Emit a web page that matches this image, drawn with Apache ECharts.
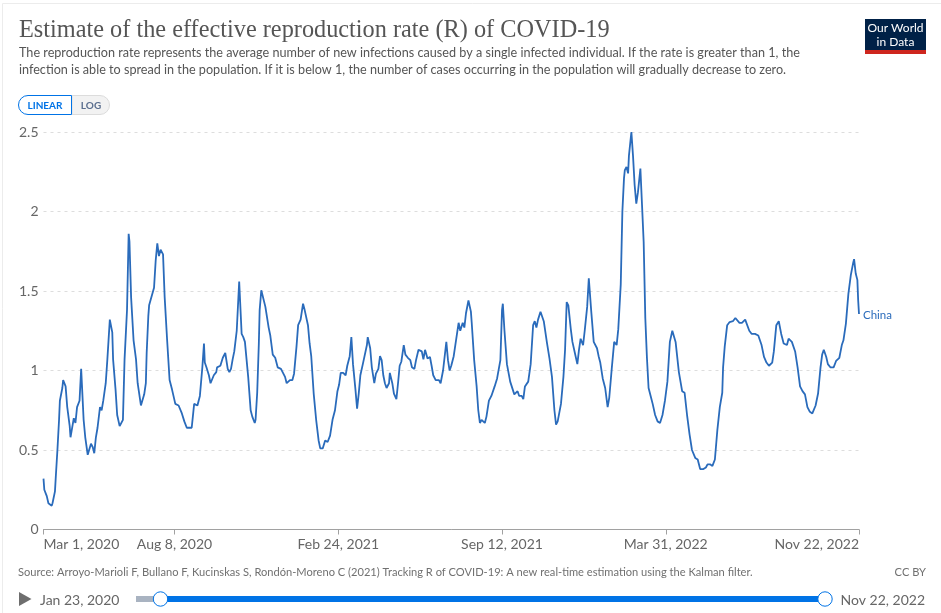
<!DOCTYPE html>
<html>
<head>
<meta charset="utf-8">
<style>html,body{margin:0;padding:0;background:#fff}#c{width:941px;height:613px}</style>
<script src="https://cdn.jsdelivr.net/npm/echarts@6/dist/echarts.min.js"></script>
</head>
<body>
<div id="c"></div>
<script>
const seriesName = "China";
const titleText = "Estimate of the effective reproduction rate (R) of COVID-19";
const subtitleLines = [
  "The reproduction rate represents the average number of new infections caused by a single infected individual. If the rate is greater than 1, the",
  "infection is able to spread in the population. If it is below 1, the number of cases occurring in the population will gradually decrease to zero."
];
const sourceText = "Source: Arroyo-Marioli F, Bullano F, Kucinskas S, Rondón-Moreno C (2021) Tracking R of COVID-19: A new real-time estimation using the Kalman filter.";
const licenseText = "CC BY";
const sliderStart = "Jan 23, 2020";
const sliderEnd = "Nov 22, 2022";
// x ticks, in days since Mar 1, 2020
const tickDays = [0, 160, 360, 560, 760, 996];
const tickLabels = ["Mar 1, 2020", "Aug 8, 2020", "Feb 24, 2021", "Sep 12, 2021", "Mar 31, 2022", "Nov 22, 2022"];
// days since Mar 1, 2020
const days = [
0,1,4,6,10,11,14,15,17,19,20,23,24,27,29,32,33,35,37,39,41,44,46,49,51,54,56,58,60,62,64,66,69,71,73,76,78,81,84,85,88,90,93,97,99,102,104,105,107,110,113,115,119,121,123,125,126,128,129,131,135,137,139,141,143,146,148,151,154,157,161,165,169,172,175,177,181,182,184,186,188,191,194,196,197,199,202,204,206,208,211,212,214,216,219,222,225,227,229,231,233,236,239,242,244,246,248,
250,253,255,258,259,261,263,264,266,268,271,275,277,280,283,286,290,292,295,297,301,304,306,309,311,314,317,319,323,325,327,330,333,336,338,341,344,347,350,353,356,359,361,363,366,369,371,374,376,378,381,383,385,387,390,392,395,396,399,401,404,406,409,411,413,415,417,419,422,423,426,428,431,433,435,437,440,442,445,448,450,453,455,458,462,464,466,469,472,474,476,479,483,485,488,492,494,496,
498,501,505,507,509,512,514,516,519,522,523,526,529,531,533,535,539,541,544,547,551,554,558,560,561,563,566,570,575,579,581,584,586,588,589,592,595,598,600,602,604,607,611,615,618,621,624,626,628,632,635,637,639,641,644,646,649,652,654,656,659,661,664,666,
669,672,676,678,680,683,686,689,691,694,697,700,702,705,707,709,710,712,714,715,718,720,722,724,726,729,731,733,735,737,739,742,744,747,750,753,756,759,762,765,768,769,772,776,780,783,786,789,792,796,799,802,806,809,811,
814,817,820,823,826,829,830,832,835,838,842,845,847,850,853,855,857,859,862,865,869,873,877,880,883,886,890,892,895,898,901,904,908,910,914,918,921,924,927,930,933,936,939,943,946,949,951,953,956,958,961,965,968,972,975,977,980,983,986,987,989,990,992,994,995,996
];
const rValues = [
.32,.25,.21,.165,.15,.165,.24,.33,.50,.69,.81,.89,.94,.90,.77,.65,.58,.59,.70,.67,.77,.81,1.01,.69,.58,.47,.47,.54,.52,.48,.58,.64,.77,.75,.81,.92,1.07,1.32,1.24,1.07,.88,.72,.65,.69,1.07,1.38,1.86,1.81,1.46,1.19,1.07,.92,.78,.78,.85,.92,1.11,1.34,1.41,1.41,1.52,1.69,1.80,1.72,1.76,1.73,1.46,1.19,.94,.88,.79,.78,.73,.68,.64,.65,.64,.69,.79,.80,.78,.84,1.02,1.17,1.05,1.02,.97,.92,.91,.97,.99,1.02,1.02,1.03,1.08,1.11,1.01,.99,1.01,1.07,1.12,1.25,1.56,1.23,1.21,1.18,1.17,
.96,.75,.71,.67,.69,.86,1.17,1.38,1.505,1.505,1.40,1.27,1.22,1.10,1.08,1.02,1.01,1.01,.96,.92,.94,.94,.98,1.15,1.285,1.32,1.42,1.38,1.285,1.17,1.09,.855,.69,.56,.51,.51,.56,.55,.59,.69,.75,.87,.91,.985,.985,.97,1.03,1.09,1.21,1.04,.88,.76,.855,.97,1.04,1.03,1.16,1.21,1.14,1.02,.92,.98,1.01,1.09,1.065,.97,.92,.89,.92,.985,.92,.855,.82,.92,1.03,1.055,1.16,1.10,1.08,1.065,1.02,1.01,1.065,1.13,1.12,1.07,1.13,1.075,1.085,1.03,.97,.94,.94,.92,1.00,1.18,1.065,1.00,
1.03,1.09,1.23,1.30,1.25,1.30,1.27,1.36,1.44,1.37,1.30,1.065,.90,.75,.67,.69,.67,.71,.81,.84,.90,.95,1.065,1.38,1.42,1.25,1.04,.93,.85,.87,.84,.84,.82,.90,.89,.93,1.04,1.285,1.31,1.27,1.32,1.37,1.31,1.17,1.075,.96,.75,.66,.68,.79,.96,1.13,1.43,1.41,1.26,1.18,1.11,1.04,1.13,1.20,1.16,1.25,1.40,1.58,
1.37,1.18,1.14,1.09,1.05,.95,.89,.77,.83,1.01,1.18,1.16,1.26,1.54,2.0,2.21,2.26,2.28,2.24,2.35,2.5,2.35,2.165,2.05,2.12,2.27,2.04,1.81,1.33,1.08,.89,.83,.79,.72,.68,.67,.72,.81,.93,1.18,1.25,1.24,1.18,.99,.87,.86,.72,.60,.50,.45,.44,.38,.38,.39,.41,
.41,.40,.44,.625,.77,.86,1.02,1.15,1.285,1.305,1.31,1.33,1.32,1.30,1.30,1.295,1.32,1.31,1.25,1.23,1.23,1.22,1.16,1.085,1.05,1.03,1.05,1.12,1.285,1.31,1.23,1.17,1.16,1.20,1.18,1.12,1.02,.90,.87,.85,.77,.74,.73,.78,.855,1.02,1.10,1.13,1.085,1.04,1.02,1.02,1.06,1.08,1.16,1.19,1.295,1.48,1.60,1.59,1.68,1.70,1.61,1.57,1.44,1.355
];

const chart = echarts.init(document.getElementById('c'));
const lato = 'Lato, sans-serif';
const blue = '#0073e6';
const lineColor = '#2a6bbb';
const txt = (x, y, text, size, fill, extra) => ({
  type: 'text', x, y, silent: true,
  style: Object.assign({ text, font: size + 'px ' + lato, fill, textVerticalAlign: 'middle' }, extra || {})
});
chart.setOption({
  animation: false,
  backgroundColor: '#fff',
  grid: { left: 43.5, right: 82, top: 132, bottom: 83.5, containLabel: false },
  xAxis: {
    type: 'value', min: 0, max: 996,
    splitLine: { show: false },
    axisLine: { show: true, onZero: true, lineStyle: { color: '#a1a1a1', width: 1 } },
    axisTick: { show: true, length: 5, customValues: tickDays, lineStyle: { color: '#a1a1a1' } },
    axisLabel: {
      customValues: tickDays, margin: 8, fontFamily: lato, fontSize: 14, color: '#666',
      alignMinLabel: 'left', alignMaxLabel: 'right', hideOverlap: false,
      formatter: v => tickLabels[tickDays.indexOf(v)]
    }
  },
  yAxis: {
    type: 'value', min: 0, max: 2.5, interval: 0.5,
    axisLine: { show: false }, axisTick: { show: false },
    axisLabel: { margin: 5, fontFamily: lato, fontSize: 14, color: '#666' },
    splitLine: { show: true, lineStyle: { color: '#dddddd', type: [3, 4], width: 1 } }
  },
  series: [{
    name: seriesName, type: 'line', showSymbol: false, symbol: 'none', smooth: false,
    data: days.map((d, i) => [d, rValues[i]]),
    lineStyle: { color: lineColor, width: 1.8 },
    endLabel: { show: true, formatter: seriesName, color: lineColor, fontFamily: lato, fontSize: 11.5, distance: 4, offset: [0, 1] },
    clip: false
  }],
  graphic: [
    { type: 'rect', silent: true, z: -1, shape: { x: 2.5, y: 3.5, width: 950, height: 620 }, style: { fill: '#fff', stroke: '#ececec', lineWidth: 1 } },
    { type: 'text', silent: true, x: 19, y: 31, style: { text: titleText, font: '24.3px "Liberation Serif", serif', fill: '#555', textVerticalAlign: 'middle' } },
    txt(19, 53, subtitleLines[0], 12.63, '#555'),
    txt(19, 69.5, subtitleLines[1], 12.63, '#555'),
    // scale toggle
    { type: 'rect', silent: true, shape: { x: 72, y: 95.5, width: 37.5, height: 19, r: [0, 9.5, 9.5, 0] }, style: { fill: '#f2f2f2', stroke: '#dcdcdc', lineWidth: 1 } },
    { type: 'rect', silent: true, shape: { x: 18.5, y: 95.5, width: 53, height: 19, r: [9.5, 0, 0, 9.5] }, style: { fill: '#fff', stroke: blue, lineWidth: 1 } },
    txt(45, 105.5, 'LINEAR', 10, blue, { font: 'bold 10px ' + lato, textAlign: 'center' }),
    txt(91, 105.5, 'LOG', 10, '#5b6f8f', { font: 'bold 10px ' + lato, textAlign: 'center' }),
    // logo
    { type: 'rect', silent: true, shape: { x: 865, y: 19, width: 61, height: 35 }, style: { fill: '#002147' } },
    { type: 'rect', silent: true, shape: { x: 865, y: 50, width: 61, height: 4 }, style: { fill: '#ce261e' } },
    txt(895.5, 28.5, 'Our World', 12, '#fff', { textAlign: 'center' }),
    txt(895.5, 42, 'in Data', 12, '#fff', { textAlign: 'center' }),
    // footer
    txt(18, 572, sourceText, 11.12, '#707070'),
    txt(926, 572, licenseText, 11.12, '#707070', { textAlign: 'right' }),
    // timeline
    { type: 'polygon', silent: true, shape: { points: [[19, 592], [31.5, 599], [19, 606]] }, style: { fill: '#6e6e6e' } },
    txt(40, 600, sliderStart, 14, '#666'),
    txt(925, 600, sliderEnd, 14, '#666', { textAlign: 'right' }),
    { type: 'rect', silent: true, shape: { x: 136, y: 596, width: 26, height: 6 }, style: { fill: '#a9b3c1' } },
    { type: 'rect', silent: true, shape: { x: 160, y: 596, width: 665, height: 6 }, style: { fill: blue } },
    { type: 'circle', silent: true, shape: { cx: 160.5, cy: 599, r: 7.2 }, style: { fill: '#fff', stroke: blue, lineWidth: 1 } },
    { type: 'circle', silent: true, shape: { cx: 825, cy: 599, r: 7.2 }, style: { fill: '#fff', stroke: blue, lineWidth: 1 } }
  ]
});
</script>
</body>
</html>
